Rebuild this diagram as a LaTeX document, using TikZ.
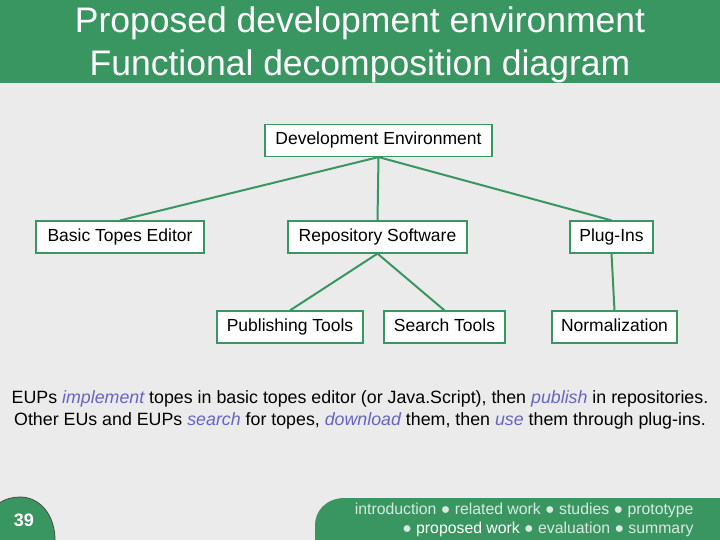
\documentclass[tikz,border=0pt]{standalone}
\usepackage{fontspec}
\setmainfont{Liberation Sans}
\definecolor{gr}{HTML}{3A9660}
\definecolor{bg}{HTML}{EBEBEB}
\definecolor{em}{HTML}{6464C8}
\newcommand{\hl}[1]{{\color{em}\itshape #1}}
\begin{document}
\begin{tikzpicture}[x=1pt,y=-1pt,
  bx/.style={draw=gr,line width=1.2pt,fill=white,minimum height=32pt,font=\fontsize{17.5}{20}\selectfont,inner sep=0pt,text height=12.5pt,text depth=3.5pt},
  ln/.style={draw=gr,line width=2pt}]
\fill[bg] (0,0) rectangle (720,540);
\useasboundingbox (0,0) rectangle (720,540);
\fill[gr] (0,0) rectangle (720,83);
\node[text=white,align=center,font=\fontsize{35.5}{43}\selectfont] (title) at (360,45) {Proposed development environment\\Functional decomposition diagram};
\node[bx,minimum width=227pt] (de) at (378.5,140.5) {Development Environment};
\node[bx,minimum width=168pt] (bte) at (120,237) {Basic Topes Editor};
\node[bx,minimum width=179pt] (rs) at (377.5,237) {Repository Software};
\node[bx,minimum width=83pt] (pi) at (611.5,237) {Plug-Ins};
\node[bx,minimum width=146pt] (pt) at (290,327) {Publishing Tools};
\node[bx,minimum width=121pt] (st) at (444.5,327) {Search Tools};
\node[bx,minimum width=125pt] (no) at (614.5,327) {Normalization};
\draw[ln] (de.south) -- (bte.north);
\draw[ln] (de.south) -- (rs.north);
\draw[ln] (de.south) -- (pi.north);
\draw[ln] (rs.south) -- (pt.north);
\draw[ln] (rs.south) -- (st.north);
\draw[ln] (pi.south) -- (no.north);
\node[align=center,font=\fontsize{17.8}{22}\selectfont] (txt) at (360,410) {EUPs \hl{implement} topes in basic topes editor (or Java.Script), then \hl{publish} in repositories.\\Other EUs and EUPs \hl{search} for topes, \hl{download} them, then \hl{use} them through plug-ins.};
\fill[gr] (315,540) -- (315,525) .. controls (315,512) and (325,498) .. (345,498) -- (720,498) -- (720,540) -- cycle;
\node[align=right,anchor=east,text=white!80!gr,font=\fontsize{15.8}{19}\selectfont] (nav) at (697,520) {introduction ● related work ● studies ● prototype\\● {\color{white}proposed work} ● evaluation ● summary};
\draw[fill=gr,draw=black!70,line width=0.8pt] (-10,540) -- (-10,520) .. controls (-10,505) and (5,497) .. (20,497) .. controls (40,497) and (55,515) .. (55,540);
\node[text=white,font=\bfseries\fontsize{18}{20}\selectfont] (pg) at (24,520) {39};
\end{tikzpicture}
\end{document}
